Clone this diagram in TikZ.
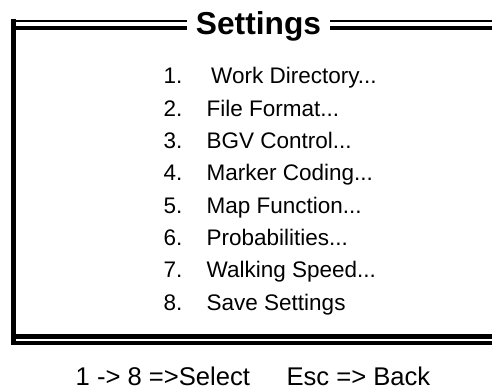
\documentclass[tikz,border=0pt]{standalone}
\usepackage{fontspec}
\setmainfont{Liberation Sans}
\usepackage{tikz}
\usetikzlibrary{positioning}

\begin{document}
\begin{tikzpicture}[x=1pt,y=-1pt,
  every node/.style={inner sep=0pt,anchor=base west},
  num/.style={font=\fontsize{22.5}{27}\selectfont},
  item/.style={font=\fontsize{22.5}{27}\selectfont},
  hint/.style={font=\fontsize{25.6}{30}\selectfont},
  frame/.style={line width=#1,line cap=butt}]
  \useasboundingbox (0,0) rectangle (492,390);
  \node (title) at (258.5,34.5)[anchor=base,inner xsep=9pt,font=\fontsize{31.7}{38}\selectfont\bfseries]{Settings};
  % menu entries
  \node (n1) at (163.5,84)[num]{1.};
  \node (i1) at (211,84)[item]{Work Directory...};
  \node (n2) at (163.5,116.3)[num]{2.};
  \node (i2) at (206.5,116.3)[item]{File Format...};
  \node (n3) at (163.5,148.6)[num]{3.};
  \node (i3) at (206.5,148.6)[item]{BGV Control...};
  \node (n4) at (163.5,180.9)[num]{4.};
  \node (i4) at (206.5,180.9)[item]{Marker Coding...};
  \node (n5) at (163.5,213.2)[num]{5.};
  \node (i5) at (206.5,213.2)[item]{Map Function...};
  \node (n6) at (163.5,245.5)[num]{6.};
  \node (i6) at (206.5,245.5)[item]{Probabilities...};
  \node (n7) at (163.5,277.8)[num]{7.};
  \node (i7) at (206.5,277.8)[item]{Walking Speed...};
  \node (n8) at (163.5,310.1)[num]{8.};
  \node (i8) at (206.5,310.1)[item]{Save Settings};
  % key hints
  \node (sel) at (75.5,385)[hint]{1 -> 8 =>Select};
  \node (back) at (430.5,385)[hint,anchor=base east]{Esc => Back};
  % frame
  \coordinate (tl1) at (12,21.5);
  \coordinate (tl2) at (12,28);
  \coordinate (tr1) at (492,21.5);
  \coordinate (tr2) at (492,28);
  \coordinate (top) at (13.5,19.5);
  \coordinate (bot) at (13.5,345);
  \coordinate (bl1) at (11,336.5);
  \coordinate (bl2) at (11,343);
  \coordinate (br1) at (492,336.5);
  \coordinate (br2) at (492,343);
  \draw[frame=2pt](tl1)--(tl1 -| title.west);
  \draw[frame=3.5pt](tl2)--(tl2 -| title.west);
  \draw[frame=2pt](tr1 -| title.east)--(tr1);
  \draw[frame=3.5pt](tr2 -| title.east)--(tr2);
  \draw[frame=5pt](top)--(bot);
  \draw[frame=4.5pt](bl1)--(br1);
  \draw[frame=3.5pt](bl2)--(br2);
\end{tikzpicture}
\end{document}
